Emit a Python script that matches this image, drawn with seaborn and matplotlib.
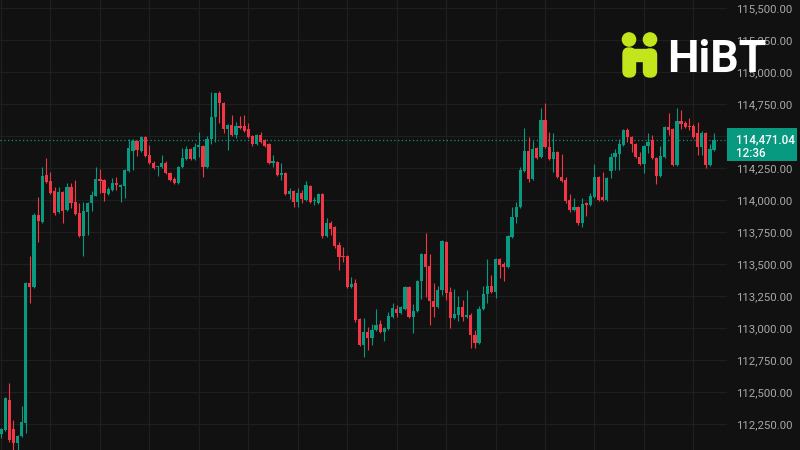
import numpy as np
import pandas as pd
import matplotlib
matplotlib.use("Agg")
import matplotlib.pyplot as plt
import matplotlib.transforms as mtransforms
from matplotlib.patches import Rectangle, Circle, FancyBboxPatch
from matplotlib.ticker import FuncFormatter
import seaborn as sns

# OHLC candles (oldest -> newest)
opens = [
    112175, 112207, 112441, 112214, 112105, 112160, 112261, 113355, 113324, 113886,
    113832, 114199, 114152, 114074, 113910, 114066, 113925, 114105, 113988, 113902,
    113722, 113910, 113980, 114035, 114168, 114160, 114050, 114082, 114136, 114105,
    114113, 114230, 114386, 114464, 114386, 114496, 114355, 114293, 114261, 114261,
    114293, 114214, 114168, 114136, 114261, 114324, 114402, 114324, 114418, 114425,
    114261, 114480, 114652, 114839, 114761, 114558, 114589, 114511, 114582, 114582,
    114558, 114503, 114441, 114511, 114472, 114441, 114293, 114300, 114199, 114214,
    114050, 114074, 113988, 114058, 114004, 114113, 113996, 113980, 114050, 113722,
    113824, 113793, 113652, 113566, 113566, 113324, 113355, 113074, 112871, 112972,
    112925, 112988, 113035, 112972, 112996, 113089, 113152, 113121, 113152, 113324,
    113089, 113136, 113371, 113582, 113488, 113214, 113168, 113300, 113675, 113285,
    113082, 113105, 113168, 113089, 113105, 112949, 112886, 113152, 113269, 113332,
    113285, 113543, 113504, 113480, 113714, 113871, 113949, 114230, 114386, 114168,
    114410, 114339, 114628, 114418, 114324, 114378, 114183, 114160, 114004, 113925,
    113949, 113824, 113980, 113964, 114027, 114183, 114027, 114004, 114230, 114339,
    114363, 114433, 114550, 114496, 114441, 114339, 114285, 114425, 114472, 114332,
    114191, 114339, 114574, 114558, 114277, 114621, 114605, 114585, 114582, 114527,
    114418, 114527, 114277, 114394,
]
highs = [
    112222, 112464, 112574, 112285, 112168, 112394, 113363, 113566, 113902, 114027,
    114261, 114332, 114222, 114105, 114105, 114074, 114136, 114136, 114160, 113980,
    113988, 113988, 114074, 114261, 114246, 114168, 114105, 114175, 114183, 114128,
    114246, 114480, 114480, 114472, 114503, 114503, 114433, 114308, 114269, 114355,
    114308, 114222, 114183, 114269, 114410, 114425, 114410, 114449, 114535, 114433,
    114503, 114847, 114839, 114855, 114769, 114597, 114668, 114613, 114660, 114668,
    114605, 114511, 114519, 114535, 114480, 114449, 114355, 114308, 114293, 114222,
    114097, 114082, 114097, 114082, 114152, 114121, 114027, 114058, 114058, 113863,
    113839, 113800, 113675, 113636, 113574, 113402, 113386, 113082, 113082, 113011,
    113035, 113152, 113066, 113011, 113128, 113199, 113183, 113175, 113332, 113332,
    113191, 113378, 113589, 113746, 113582, 113355, 113332, 113691, 113683, 113324,
    113308, 113253, 113222, 113300, 113121, 112988, 113175, 113332, 113543, 113418,
    113550, 113550, 113519, 113730, 113949, 113988, 114261, 114566, 114496, 114464,
    114418, 114722, 114761, 114535, 114527, 114386, 114363, 114183, 114050, 114019,
    113957, 114019, 113988, 114058, 114285, 114191, 114222, 114183, 114371, 114402,
    114480, 114558, 114566, 114503, 114449, 114378, 114433, 114527, 114511, 114339,
    114425, 114582, 114683, 114566, 114722, 114707, 114621, 114644, 114597, 114613,
    114543, 114535, 114441, 114527,
]
lows = [
    112144, 112200, 112113, 112050, 112050, 112152, 112183, 113199, 113316, 113675,
    113824, 114136, 114050, 113886, 113902, 113824, 113918, 113941, 113886, 113714,
    113566, 113730, 113918, 114035, 114058, 113996, 114043, 114074, 114082, 113988,
    114019, 114222, 114238, 114347, 114378, 114339, 114285, 114246, 114191, 114253,
    114207, 114152, 114128, 114128, 114253, 114316, 114316, 114316, 114339, 114183,
    114253, 114441, 114457, 114605, 114527, 114394, 114503, 114488, 114558, 114535,
    114488, 114425, 114433, 114449, 114418, 114285, 114261, 114191, 114160, 114043,
    114011, 113949, 113949, 113980, 113996, 113980, 113964, 113972, 113707, 113714,
    113730, 113629, 113457, 113519, 113316, 113316, 113050, 112863, 112777, 112832,
    112871, 112980, 112964, 112902, 112988, 113082, 113089, 113113, 113144, 113082,
    112964, 113128, 113230, 113246, 113027, 113089, 113160, 113261, 113222, 113004,
    113074, 113058, 113058, 113082, 112847, 112847, 112878, 113144, 113199, 113277,
    113238, 113394, 113371, 113472, 113707, 113824, 113941, 114222, 114144, 114160,
    114324, 114332, 114410, 114316, 114222, 114175, 114144, 113980, 113910, 113918,
    113808, 113793, 113878, 113957, 114019, 113996, 113996, 113996, 114175, 114238,
    114238, 114425, 114457, 114378, 114332, 114277, 114214, 114371, 114324, 114128,
    114183, 114332, 114511, 114269, 114269, 114558, 114566, 114550, 114488, 114355,
    114355, 114253, 114269, 114386,
]
closes = [
    112214, 112457, 112129, 112105, 112160, 112269, 113355, 113324, 113886, 113839,
    114191, 114144, 114058, 113902, 114066, 113918, 114105, 113980, 113894, 113722,
    113918, 113980, 114043, 114168, 114152, 114058, 114089, 114136, 114121, 114121,
    114238, 114410, 114464, 114394, 114496, 114347, 114293, 114253, 114269, 114293,
    114214, 114160, 114136, 114261, 114332, 114402, 114324, 114418, 114433, 114261,
    114480, 114652, 114839, 114761, 114558, 114589, 114511, 114582, 114566, 114543,
    114496, 114441, 114511, 114457, 114425, 114293, 114308, 114199, 114214, 114050,
    114074, 113988, 114058, 114011, 114121, 113988, 114004, 114050, 113722, 113824,
    113777, 113644, 113558, 113555, 113324, 113347, 113066, 112871, 112972, 112925,
    112988, 113027, 112972, 113004, 113097, 113160, 113121, 113168, 113324, 113089,
    113136, 113371, 113582, 113480, 113214, 113168, 113300, 113683, 113277, 113082,
    113113, 113168, 113089, 113105, 112949, 112886, 113152, 113269, 113332, 113285,
    113543, 113496, 113480, 113722, 113871, 113949, 114238, 114386, 114168, 114402,
    114332, 114628, 114418, 114324, 114378, 114183, 114152, 113996, 113925, 113949,
    113824, 113972, 113964, 114035, 114183, 114004, 114000, 114175, 114339, 114371,
    114441, 114550, 114496, 114441, 114339, 114285, 114425, 114457, 114332, 114191,
    114347, 114574, 114550, 114277, 114621, 114597, 114574, 114570, 114496, 114418,
    114527, 114277, 114402, 114471.04,
]
countdown = "12:36"
price_ticks = list(range(112250, 115501, 250))

BG = "#111111"
GRID = "#1f1f1f"
UP = "#089981"
DOWN = "#f23645"
TXT = "#a8a8a8"
LIME = "#c2e61b"

df = pd.DataFrame({"open": opens, "high": highs, "low": lows, "close": closes})
df["i"] = np.arange(len(df))
df["up"] = df["close"] >= df["open"]
df["hi"] = df[["high", "open", "close"]].max(axis=1)
df["lo"] = df[["low", "open", "close"]].min(axis=1)
colors = np.where(df["up"], UP, DOWN)

sns.set_theme(style="dark", rc={"axes.facecolor": BG, "figure.facecolor": BG})
plt.rcParams["font.family"] = ["Roboto", "DejaVu Sans"]

fig = plt.figure(figsize=(8, 4.5), dpi=100)
ax = fig.add_axes([0, 0, 727 / 800, 1])

# wicks + bodies
ax.vlines(df["i"], df["lo"], df["hi"], colors=colors, linewidth=0.8, zorder=3)
body = np.maximum((df["close"] - df["open"]).abs(), 6)
ax.bar(df["i"], body, bottom=df[["open", "close"]].min(axis=1), width=0.78,
       color=colors, linewidth=0, zorder=4)

ax.set_xlim(-0.25, 176.15)
ax.set_ylim(112050, 115566)
ax.set_xticks(range(0, len(df), 12))
ax.set_xticklabels([])
ax.set_yticks(price_ticks)
ax.yaxis.tick_right()
ax.yaxis.set_major_formatter(FuncFormatter(lambda v, p: f"{v:,.2f}"))
ax.tick_params(axis="y", length=0, pad=6.5, labelsize=8.2, labelcolor=TXT)
ax.tick_params(axis="x", length=0)
ax.grid(True, color=GRID, linewidth=0.9)
ax.set_axisbelow(True)
for s in ax.spines.values():
    s.set_visible(False)

# last price line + label
last = closes[-1]
ax.axhline(last, color=UP, linestyle=(0, (1, 2)), linewidth=0.9, zorder=2)
trans = mtransforms.blended_transform_factory(ax.transAxes, ax.transData)
px = 1000 / 128.0  # price per pixel
ax.add_patch(Rectangle((1.0, last - 21 * px), 70 / 727, 33 * px, transform=trans,
                       facecolor=UP, edgecolor="none", clip_on=False, zorder=6))
ax.text(1 + 9 / 727, last, f"{last:,.2f}", transform=trans, color="white",
        fontsize=8.4, fontweight="medium", va="center", ha="left", zorder=7)
ax.text(1 + 9 / 727, last - 13.5 * px, countdown, transform=trans, color="white",
        fontsize=8.4, fontweight="medium", va="center", ha="left", zorder=7)

# HiBT logo
lax = fig.add_axes([615 / 800, 1 - 84 / 450, 155 / 800, 56 / 450])
lax.set_xlim(615, 770)
lax.set_ylim(84, 28)
lax.axis("off")
lax.add_patch(Circle((629, 39.5), 6.6, color=LIME))
lax.add_patch(Circle((650, 39.5), 6.6, color=LIME))
lax.add_patch(FancyBboxPatch((623, 48), 12.5, 29, boxstyle="round,pad=0,rounding_size=6", color=LIME))
lax.add_patch(FancyBboxPatch((643.5, 49), 13, 28, boxstyle="round,pad=0,rounding_size=6", color=LIME))
lax.add_patch(Rectangle((633, 49), 13, 12, color=LIME))
lax.text(667, 72, "HiBT", color="white", fontsize=32, fontweight="bold",
         va="baseline", ha="left")

fig.savefig("out.png", dpi=100, facecolor=BG)
